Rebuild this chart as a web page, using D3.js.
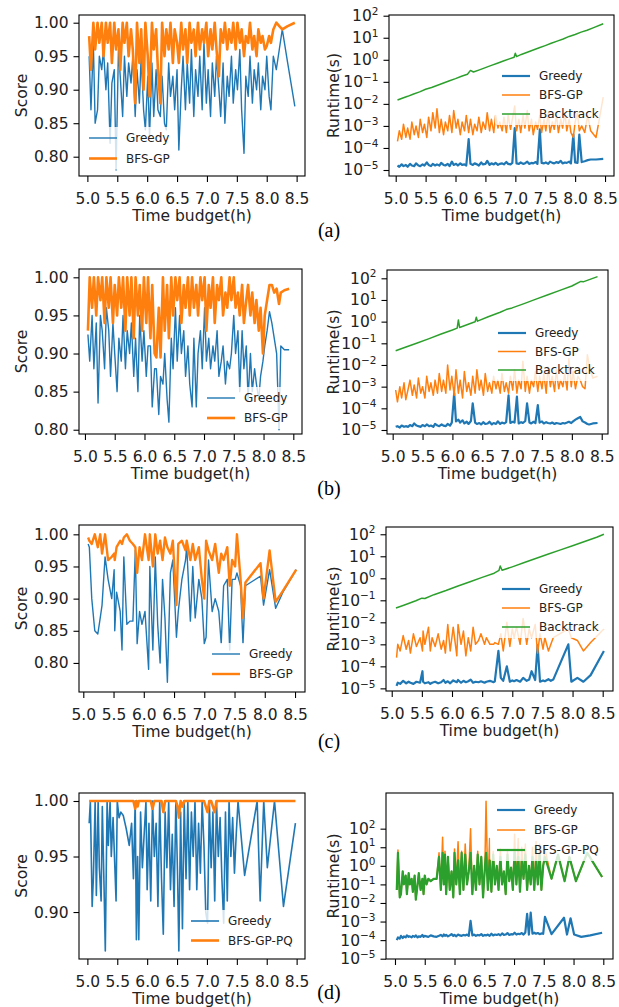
<!DOCTYPE html>
<html><head><meta charset="utf-8">
<script src="https://cdn.jsdelivr.net/npm/d3@7"></script>
<style>body{margin:0;background:#fff}svg{display:block}</style>
</head><body><svg id="c" width="619" height="1007"></svg>
<script>
// ---------------- DATA ----------------
const xTicks=[5.0,5.5,6.0,6.5,7.0,7.5,8.0,8.5];
const scoreTicks=[0.80,0.85,0.90,0.95,1.00];
const scoreTicksD=[0.90,0.95,1.00];
const logTicks=[1e-5,1e-4,1e-3,1e-2,1e-1,1e0,1e1,1e2];
const subLabels=['(a)','(b)','(c)','(d)'];

// (a)
const xA=[5.03,5.06,5.10,5.13,5.17,5.20,5.24,5.27,5.31,5.34,
5.38,5.41,5.45,5.48,5.52,5.55,5.59,5.62,5.66,5.69,
5.73,5.76,5.80,5.83,5.87,5.90,5.94,5.97,6.01,6.04,
6.08,6.11,6.15,6.18,6.22,6.25,6.29,6.32,6.36,6.39,
6.43,6.46,6.50,6.53,6.57,6.60,6.64,6.67,6.71,6.74,
6.78,6.81,6.85,6.88,6.92,6.95,6.99,7.02,7.06,7.09,
7.13,7.16,7.20,7.23,7.27,7.30,7.34,7.37,7.41,7.44,
7.48,7.51,7.55,7.58,7.62,7.65,7.69,7.72,7.76,7.79,
7.83,7.86,7.90,7.93,7.97,8.00,8.04,8.07,8.11,
8.16,8.21,8.26,8.35,8.47];
const scoreGreedyA=[0.95,0.87,0.97,0.85,0.87,0.95,0.93,0.96,0.90,0.94,
0.82,0.91,0.93,0.78,0.96,0.92,0.86,0.95,0.89,0.94,
0.91,0.95,0.86,0.93,0.88,0.95,0.87,0.84,0.92,0.83,
0.94,0.86,0.93,0.87,0.86,0.92,0.85,0.84,0.94,0.89,
0.92,0.87,0.93,0.81,0.90,0.95,0.87,0.94,0.88,0.96,
0.86,0.93,0.89,0.95,0.87,0.97,0.88,0.93,0.86,0.94,
0.89,0.95,0.90,0.86,0.94,0.85,0.92,0.89,0.95,0.88,
0.93,0.90,0.96,0.87,0.805,0.92,0.89,0.95,0.88,0.93,
0.90,0.94,0.87,0.92,0.90,0.95,0.89,0.87,0.95,
0.93,0.96,0.99,0.94,0.875];
const scoreBfsA=[0.98,0.93,1.00,0.96,1.00,0.97,1.00,0.95,1.00,0.97,
1.00,0.94,1.00,0.96,0.99,0.93,1.00,0.97,1.00,0.95,
0.99,0.96,0.88,1.00,0.94,0.99,0.90,1.00,0.95,0.89,
1.00,0.96,0.99,0.93,0.88,1.00,0.95,0.99,0.96,1.00,
0.94,0.99,0.97,0.94,1.00,0.96,0.99,0.94,1.00,0.97,
0.99,0.95,1.00,0.96,0.99,0.97,1.00,0.95,0.99,0.96,
1.00,0.96,0.92,0.99,0.97,1.00,0.96,0.99,0.97,1.00,
0.96,1.00,0.97,0.99,0.95,0.98,0.97,1.00,0.96,0.98,
0.95,0.99,0.97,0.98,0.96,0.965,0.98,0.97,0.99,
1.00,0.995,0.99,0.995,1.00];
const rtGreedyA=[1.6e-5,1.4e-5,1.8e-5,1.5e-5,1.7e-5,1.4e-5,1.9e-5,1.6e-5,1.5e-5,2.0e-5,
1.6e-5,1.5e-5,1.8e-5,1.6e-5,2.2e-5,1.7e-5,1.5e-5,1.9e-5,1.6e-5,1.8e-5,
1.6e-5,2.1e-5,1.7e-5,1.6e-5,1.9e-5,1.5e-5,2.4e-5,1.7e-5,1.9e-5,1.6e-5,
2.0e-5,1.7e-5,1.8e-5,1.6e-5,2.5e-4,1.9e-5,1.7e-5,2.0e-5,1.8e-5,1.6e-5,
2.2e-5,1.8e-5,1.9e-5,2.6e-5,1.7e-5,2.0e-5,1.8e-5,2.1e-5,1.7e-5,1.9e-5,
2.0e-5,1.8e-5,2.3e-5,1.9e-5,1.8e-5,2.1e-5,8e-4,2.0e-5,1.9e-5,2.2e-5,
1.9e-5,2.0e-5,2.4e-5,1.9e-5,2.1e-5,2.0e-5,2.3e-5,1.9e-5,7e-4,2.1e-5,
2.0e-5,2.2e-5,1.9e-5,2.4e-5,2.1e-5,2.0e-5,2.3e-5,2.1e-5,2.6e-5,2.0e-5,
2.2e-5,2.1e-5,2.4e-5,2.0e-5,4e-4,2.2e-5,2.1e-5,4e-4,2.3e-5,
2.5e-5,2.8e-5,3.0e-5,3.0e-5,3.2e-5];
const rtBfsA=[2e-4,6e-4,2.5e-4,1.2e-3,3e-4,8e-4,2.5e-4,1.5e-3,4e-4,1e-3,
3e-4,2e-3,5e-4,1.2e-3,3e-4,2.5e-3,6e-4,4e-3,8e-4,6e-3,
5e-4,2e-3,4e-4,1.5e-3,6e-4,3e-3,5e-4,5e-3,8e-4,2e-3,
4e-4,1.5e-3,6e-4,3e-3,5e-4,2e-3,4e-4,1.2e-3,6e-4,2.5e-3,
5e-4,1.5e-3,7e-4,4e-3,6e-4,2e-3,5e-4,3e-3,8e-4,1.5e-3,
6e-4,2.5e-3,5e-4,3e-3,7e-4,2e-3,8e-3,6e-4,2e-3,5e-4,
3e-3,8e-4,5e-3,6e-4,2e-3,4e-4,1.5e-3,7e-4,3e-3,5e-4,
2e-3,6e-4,4e-3,5e-4,1.5e-3,7e-4,3e-3,5e-4,2e-3,8e-4,
4e-3,6e-4,2e-3,5e-4,3e-4,1.5e-3,4e-3,6e-4,1e-3,
5e-4,3e-3,6e-4,3e-4,2e-2];
const xBackA=[5.03,5.12,5.2,5.3,5.4,5.5,5.6,5.7,5.8,5.9,6.0,6.1,6.2,6.25,6.3,6.4,6.5,6.6,6.7,6.8,6.9,6.98,7.0,7.02,7.1,7.2,7.3,7.4,7.5,7.6,7.7,7.8,7.9,8.0,8.1,8.2,8.3,8.47];
const rtBackA=[0.015,0.0185,0.022,0.028,0.035,0.046,0.055,0.070,0.088,0.112,0.14,0.18,0.22,0.33,0.28,0.35,0.44,0.56,0.70,0.88,1.1,1.3,2.0,1.4,1.75,2.2,2.8,3.5,4.4,5.6,7.0,8.8,11.5,14,18,22,28,43];

// (b)
const xB=[5.05,5.08,5.12,5.15,5.19,5.22,5.26,5.29,5.33,5.36,
5.40,5.43,5.47,5.50,5.54,5.57,5.61,5.64,5.68,5.71,
5.75,5.78,5.82,5.85,5.89,5.92,5.96,5.99,6.03,6.06,
6.10,6.13,6.17,6.20,6.24,6.27,6.31,6.34,6.38,6.41,
6.45,6.48,6.52,6.55,6.59,6.62,6.66,6.69,6.73,6.76,
6.80,6.83,6.87,6.90,6.94,6.97,7.01,7.04,7.08,7.11,
7.15,7.18,7.22,7.25,7.29,7.32,7.36,7.39,7.43,7.46,
7.50,7.53,7.57,7.60,7.64,7.67,7.71,7.74,7.78,7.81,
7.85,7.88,7.92,7.95,7.99,8.02,8.06,8.10,8.14,8.18,
8.22,8.26,8.29,8.35,8.43];
const scoreGreedyB=[0.925,0.89,0.95,0.88,0.94,0.835,0.95,0.93,0.88,0.96,
0.93,0.87,0.94,0.90,0.85,0.92,0.89,0.95,0.88,0.93,
0.90,0.94,0.87,0.92,0.85,0.95,0.89,0.93,0.87,0.91,
0.91,0.83,0.88,0.88,0.82,0.87,0.86,0.90,0.84,0.81,
0.92,0.88,0.96,0.89,0.95,0.90,0.93,0.87,0.91,0.86,
0.83,0.92,0.83,0.90,0.93,0.88,0.96,0.89,0.92,0.88,
0.91,0.89,0.93,0.87,0.89,0.91,0.86,0.89,0.88,0.90,
0.95,0.90,0.93,0.85,0.93,0.88,0.91,0.84,0.90,0.85,
0.88,0.86,0.84,0.87,0.89,0.91,0.93,0.955,0.94,0.92,
0.90,0.80,0.91,0.905,0.905];
const scoreBfsB=[0.93,1.00,0.96,1.00,0.95,1.00,0.97,1.00,0.94,1.00,
0.96,1.00,0.94,0.99,0.95,1.00,0.96,1.00,0.93,1.00,
0.95,1.00,0.92,1.00,0.95,0.99,0.93,1.00,0.94,1.00,
0.92,0.99,0.90,0.895,0.96,0.895,1.00,0.93,0.99,0.92,
1.00,0.95,1.00,0.97,1.00,0.94,0.99,0.96,1.00,0.95,
1.00,0.96,0.99,0.95,1.00,0.97,1.00,0.93,0.99,0.96,
1.00,0.94,0.99,0.97,1.00,0.95,0.98,0.96,1.00,0.97,
1.00,0.96,0.98,0.95,0.99,0.94,0.97,0.99,0.95,0.98,
0.94,0.97,0.93,0.96,0.90,0.95,0.97,0.99,0.99,0.98,
0.985,0.965,0.98,0.983,0.985];
const rtGreedyB=[1.4e-5,1.5e-5,1.3e-5,1.6e-5,1.4e-5,1.5e-5,1.4e-5,1.7e-5,1.5e-5,2.0e-5,
1.6e-5,1.5e-5,1.4e-5,1.7e-5,1.5e-5,1.8e-5,1.5e-5,1.6e-5,1.4e-5,1.9e-5,
1.6e-5,1.5e-5,1.8e-5,1.6e-5,1.5e-5,1.9e-5,1.6e-5,2.2e-5,5e-4,2.5e-5,
3e-5,2.2e-5,2.8e-5,2.0e-5,2.4e-5,1.9e-5,2.6e-5,1.7e-4,2.2e-5,1.9e-5,
2.1e-5,1.8e-5,2.3e-5,1.9e-5,2.0e-5,2.4e-5,1.8e-5,2.1e-5,1.9e-5,2.5e-5,
1.9e-5,2.2e-5,2.0e-5,2.3e-5,4e-4,2.1e-5,2.4e-5,2.2e-5,3.5e-4,2.0e-5,
2.3e-5,2.1e-5,2.6e-5,1.7e-4,2.2e-5,2.0e-5,2.4e-5,2.1e-5,1.4e-4,2.2e-5,
2.5e-5,2.0e-5,2.3e-5,2.1e-5,2.0e-5,2.2e-5,1.9e-5,2.1e-5,2.0e-5,1.9e-5,
2.1e-5,2.0e-5,2.2e-5,2.4e-5,2.1e-5,2.5e-5,3e-5,3.5e-5,4e-5,2.5e-5,
2.2e-5,1.9e-5,1.8e-5,2.0e-5,2.1e-5];
const rtBfsB=[7e-4,2e-4,1e-3,3e-4,1.5e-3,2.5e-4,8e-4,2e-3,4e-4,1.2e-3,
3e-4,2.5e-3,5e-4,1e-3,3e-4,3e-3,6e-4,1.5e-3,4e-4,2e-3,
5e-4,4e-3,6e-4,2e-3,5e-4,1e-2,7e-4,3e-3,4e-4,6e-3,
5e-4,2e-3,3e-4,5e-3,6e-4,1.5e-3,4e-4,3e-3,5e-4,6e-3,
7e-4,2e-3,4e-4,4e-3,6e-4,1.5e-3,5e-4,3e-3,8e-4,2e-3,
5e-4,4e-3,6e-4,1.5e-3,5e-4,3e-3,7e-4,6e-3,5e-4,2e-3,
8e-4,1.5e-2,6e-4,3e-3,5e-4,2e-3,1e-3,5e-3,6e-4,3e-3,
8e-4,4e-3,5e-4,8e-3,1e-3,3e-3,6e-4,6e-3,8e-4,2e-3,
1e-3,4e-3,7e-4,2e-2,1e-3,5e-3,8e-4,3e-3,2e-3,1e-3,
8e-4,3e-2,1e-2,2.5e-3,3e-3];
const xBackB=[5.05,5.2,5.4,5.6,5.8,6.0,6.08,6.1,6.12,6.3,6.38,6.4,6.42,6.6,6.8,6.9,7.0,7.2,7.4,7.6,7.8,8.0,8.15,8.2,8.43];
const rtBackB=[0.045,0.064,0.10,0.16,0.26,0.41,0.50,1.2,0.54,0.82,0.98,1.6,1.05,1.68,2.7,3.6,4.3,6.8,10.9,17.4,27.7,44,72,70,120];

// (c)
const xC=[5.08,5.10,5.14,5.19,5.24,5.28,5.31,5.36,5.41,5.47,
5.51,5.52,5.55,5.61,5.64,5.67,5.72,5.77,5.82,5.86,
5.89,5.93,5.97,6.02,6.08,6.10,6.15,6.19,6.23,6.27,
6.31,6.35,6.39,6.44,6.48,6.54,6.57,6.63,6.69,6.71,
6.77,6.81,6.85,6.91,6.96,7.00,7.03,7.07,7.13,7.18,
7.24,7.28,7.32,7.38,7.42,7.46,7.51,7.54,7.60,7.64,
7.68,7.93,7.98,8.08,8.18,8.30,8.52];
const scoreGreedyC=[0.985,0.98,0.90,0.85,0.845,0.87,0.89,0.965,0.93,0.90,
0.945,0.85,0.91,0.88,0.82,0.965,0.86,0.865,0.865,0.975,
0.83,0.88,0.86,0.88,0.79,0.95,0.82,0.965,0.86,0.80,
0.93,0.87,0.77,0.94,0.96,0.84,0.88,0.93,0.96,0.98,
0.865,0.95,0.87,0.93,0.90,0.83,0.84,0.96,0.88,0.90,
0.88,0.83,0.92,0.93,0.82,0.93,0.93,0.94,0.92,0.83,
0.92,0.935,0.89,0.945,0.885,0.91,0.945];
const scoreBfsC=[0.995,0.99,0.985,1.00,0.98,1.00,0.97,1.00,0.96,0.965,
0.97,0.96,0.98,0.99,0.985,0.995,1.00,0.99,0.985,0.98,
0.94,0.98,0.96,1.00,0.96,1.00,0.95,1.00,0.97,0.99,
0.96,0.995,0.98,0.97,0.99,0.89,0.985,0.99,0.975,0.99,
0.96,0.985,0.96,0.98,0.93,0.90,0.99,0.975,0.96,0.985,
0.94,0.97,0.96,0.98,0.92,0.96,0.95,1.00,0.93,0.87,
0.925,0.955,0.90,0.975,0.895,0.912,0.945];
const rtGreedyC=[1.3e-5,1.8e-5,1.6e-5,2.2e-5,1.7e-5,2.0e-5,1.8e-5,1.6e-5,2.0e-5,1.8e-5,
6e-5,2.0e-5,1.7e-5,1.9e-5,1.6e-5,1.8e-5,2.0e-5,1.7e-5,1.9e-5,2.4e-5,
1.8e-5,2.1e-5,1.7e-5,2.3e-5,1.9e-5,2.4e-5,1.8e-5,2.2e-5,1.9e-5,2.1e-5,
2.5e-5,1.8e-5,2.0e-5,1.9e-5,2.1e-5,1.8e-5,2.0e-5,2.2e-5,1.9e-5,2.1e-5,
5e-4,3e-5,2.2e-5,1e-4,2.0e-5,2.3e-5,2.1e-5,2.4e-5,2.0e-5,3e-5,
2.2e-5,2.5e-5,6e-5,2.4e-5,9e-4,2.0e-5,2.3e-5,2.1e-5,2.6e-5,2.2e-5,
2.5e-5,1e-3,2.0e-5,3e-5,2.0e-5,4e-5,5e-4];
const rtBfsC=[2.5e-4,1e-3,5e-4,2.5e-3,6e-4,1.5e-3,4e-4,3e-3,8e-4,2e-3,
5e-4,4e-3,1e-3,6e-3,5e-4,2e-3,8e-4,3e-3,6e-4,1.5e-3,
4e-4,8e-3,5e-4,6e-3,3e-4,8e-3,1e-3,4e-3,3e-4,2e-3,
5e-4,6e-3,1e-3,1.5e-3,3e-3,1e-3,2e-3,1e-3,1e-3,1.2e-3,
1e-3,3e-3,5e-4,1e-2,8e-4,5e-3,2e-3,6e-3,1e-3,1.5e-2,
1e-3,5e-3,2e-3,8e-3,4e-4,3e-3,6e-4,2e-3,5e-4,1e-3,
2e-3,5e-3,2e-3,1.5e-3,5e-4,1.2e-3,5e-3];
const xBackC=[5.07,5.2,5.4,5.5,5.55,5.7,5.9,6.1,6.3,6.5,6.7,6.78,6.8,6.83,7.0,7.2,7.4,7.6,7.8,8.0,8.2,8.4,8.52];
const rtBackC=[0.045,0.06,0.095,0.125,0.12,0.18,0.28,0.45,0.70,1.1,1.7,2.3,3.6,2.3,3.3,5.2,8.1,12.6,19.6,30,47,73,100];

// (d)
const xD=[5.03,5.05,5.08,5.10,5.13,5.15,5.18,5.20,5.23,5.25,
5.28,5.30,5.33,5.35,5.38,5.40,5.43,5.46,5.48,5.50,
5.53,5.56,5.60,5.65,5.70,5.74,5.77,5.80,5.82,5.84,
5.86,5.89,5.92,5.95,5.98,6.00,6.03,6.06,6.09,6.12,
6.15,6.18,6.21,6.24,6.27,6.30,6.33,6.36,6.39,6.42,
6.45,6.48,6.51,6.53,6.56,6.59,6.62,6.65,6.68,6.71,
6.74,6.77,6.80,6.83,6.86,6.89,6.92,6.95,6.98,7.01,
7.04,7.07,7.10,7.13,7.16,7.19,7.22,7.25,7.28,7.31,
7.34,7.37,7.40,7.43,7.46,7.49,7.52,7.63,7.84,7.89,
7.95,8.01,8.13,8.28,8.48];
const scoreGreedyD=[0.98,1.0,0.905,0.93,1.0,0.915,1.0,0.94,0.91,0.995,
0.92,0.865,1.0,0.96,1.0,0.95,0.985,0.94,0.91,1.0,
0.985,0.99,0.987,0.975,0.96,0.98,0.93,1.0,0.875,0.95,
0.875,0.99,0.94,0.97,1.0,0.92,0.98,0.91,1.0,0.95,
0.98,0.905,1.0,0.93,0.88,0.99,0.94,1.0,0.92,0.97,
0.905,1.0,0.93,0.865,0.99,0.885,1.0,0.93,1.0,0.92,
0.99,0.95,1.0,0.92,0.98,0.935,1.0,0.96,0.90,0.89,
1.0,0.94,0.99,0.91,1.0,0.95,0.985,0.93,0.89,0.99,
0.91,1.0,0.95,0.985,0.935,0.97,1.0,0.933,1.0,0.91,
1.0,0.94,1.0,0.905,0.98];
const scorePqD=[1,1,1,1,1,1,1,1,1,1,
1,1,1,1,1,1,1,1,1,1,
1,1,1,1,1,1,1,0.993,1,0.995,
1,1,1,1,1,1,1,1,0.993,1,
1,1,1,1,0.99,1,1,1,1,1,
1,1,0.995,0.985,1,0.995,1,1,1,1,
1,1,1,1,1,1,1,1,0.995,0.99,
1,1,0.995,0.99,1,1,1,1,1,1,
1,1,1,1,1,1,1,1,1,1,
1,1,1,1,1];
const rtGreedyD=[1e-4,1.4e-4,1.2e-4,1.7e-4,1.3e-4,1.6e-4,1.4e-4,1.8e-4,1.5e-4,1.6e-4,
1.4e-4,1.7e-4,1.5e-4,1.8e-4,1.4e-4,1.6e-4,1.5e-4,1.9e-4,1.5e-4,1.7e-4,
1.6e-4,1.5e-4,1.8e-4,1.6e-4,1.5e-4,1.7e-4,1.9e-4,1.6e-4,2.0e-4,1.7e-4,
1.9e-4,1.6e-4,1.8e-4,2.1e-4,1.7e-4,1.9e-4,1.6e-4,2.0e-4,1.8e-4,1.7e-4,
1.9e-4,1.8e-4,2.0e-4,1.7e-4,1.1e-3,1.8e-4,2.0e-4,1.7e-4,1.9e-4,1.8e-4,
2.1e-4,1.7e-4,1.9e-4,1.8e-4,2.0e-4,1.7e-4,2.2e-4,1.8e-4,2.0e-4,1.9e-4,
2.1e-4,1.8e-4,2.3e-4,1.9e-4,2.0e-4,2.4e-4,1.9e-4,2.1e-4,2.0e-4,2.5e-4,
2.0e-4,2.2e-4,2.1e-4,2.4e-4,2.0e-4,2.6e-4,2.6e-3,2e-4,3e-3,2.2e-4,
2.5e-4,2.2e-4,2.4e-4,2.1e-4,2.3e-4,2.2e-4,1.8e-3,2.1e-4,1.6e-3,2.0e-4,
1.5e-3,2e-4,1.5e-4,1.8e-4,2.5e-4];
const xDTail=[7.63,7.74,7.85,7.93,8.04,8.23,8.48];
const xDR=xD.slice(0,87).concat(xDTail);
const rtBfsD=[0.05,7,0.02,0.03,0.5,0.1,0.3,0.03,0.4,0.1,
0.2,0.04,0.3,0.015,0.1,0.4,0.05,0.2,0.03,0.3,
0.1,0.2,0.15,0.2,0.2,5,0.05,35,0.1,6,
0.03,3,0.05,0.5,0.02,8,0.1,20,0.03,6,
0.05,15,0.1,0.5,100,0.03,1,0.05,6,0.1,
3,0.02,0.8,3000,0.05,30,0.04,6,0.1,1,
0.05,8,0.1,0.5,0.03,6,0.15,0.8,0.05,50,
0.1,30,0.04,10,0.2,15,0.05,1,0.1,10,
0.05,20,0.1,15,0.05,1,8,
0.2,4,0.15,3,0.15,5,0.25];
const rtPqD=[0.05,5,0.02,0.03,0.5,0.1,0.3,0.03,0.4,0.1,
0.2,0.04,0.3,0.015,0.1,0.4,0.05,0.2,0.03,0.3,
0.1,0.2,0.15,0.2,0.2,3,0.05,5,0.1,4,
0.03,3,0.05,0.5,0.02,5,0.1,2,0.03,5,
0.05,4,0.1,0.5,5,0.03,1,0.05,4,0.1,
3,0.02,0.8,5,0.05,2,0.04,4,0.1,1,
0.05,3,0.1,0.5,0.03,4,0.15,0.8,0.05,5,
0.1,3,0.04,2,0.2,4,0.05,1,0.1,3,
0.05,2,0.1,4,0.05,1,3,
0.2,4,0.15,3,0.15,5,0.25];

// ---------------- DRAW ----------------
const BLUE='#1f77b4', ORANGE='#ff7f0e', GREEN='#2ca02c';
const FONT='"DejaVu Sans", sans-serif';
const P=Math.pow;
const panels=[
 {box:[79,15,305,176],xd:[4.86,8.64],yd:[0.7712,1.0115],log:false,yt:scoreTicks,yl:'Score',ylx:26.5,
  s:[{n:'Greedy',x:xA,y:scoreGreedyA,c:BLUE,w:1.4},{n:'BFS-GP',x:xA,y:scoreBfsA,c:ORANGE,w:2.6}],leg:[89,138,20.5]},
 {box:[389,15,614,176],xd:[4.888,8.65],yd:[P(10,-5.272),P(10,2.032)],log:true,yt:logTicks,yl:'Runtime(s)',ylx:338.5,
  s:[{n:'Greedy',x:xA,y:rtGreedyA,c:BLUE,w:2.2},{n:'BFS-GP',x:xA,y:rtBfsA,c:ORANGE,w:1.5},{n:'Backtrack',x:xBackA,y:rtBackA,c:GREEN,w:1.5}],leg:[502,76,19]},
 {box:[79,269,302,434],xd:[4.90,8.646],yd:[0.7944,1.0109],log:false,yt:scoreTicks,yl:'Score',ylx:26.5,
  s:[{n:'Greedy',x:xB,y:scoreGreedyB,c:BLUE,w:1.4},{n:'BFS-GP',x:xB,y:scoreBfsB,c:ORANGE,w:2.6}],leg:[207,398,20]},
 {box:[387,270,608,434],xd:[4.905,8.605],yd:[P(10,-5.185),P(10,2.383)],log:true,yt:logTicks,yl:'Runtime(s)',ylx:338.5,
  s:[{n:'Greedy',x:xB,y:rtGreedyB,c:BLUE,w:2.2},{n:'BFS-GP',x:xB,y:rtBfsB,c:ORANGE,w:1.5},{n:'Backtrack',x:xBackB,y:rtBackB,c:GREEN,w:1.5}],leg:[498,333,18.5]},
 {box:[79,525,305,692],xd:[4.929,8.665],yd:[0.7548,1.0145],log:false,yt:scoreTicks,yl:'Score',ylx:26.5,
  s:[{n:'Greedy',x:xC,y:scoreGreedyC,c:BLUE,w:1.4},{n:'BFS-GP',x:xC,y:scoreBfsC,c:ORANGE,w:2.4}],leg:[212,654,20]},
 {box:[386,527,613,691],xd:[4.905,8.671],yd:[P(10,-5.12),P(10,2.33)],log:true,yt:logTicks,yl:'Runtime(s)',ylx:338.5,
  s:[{n:'Greedy',x:xC,y:rtGreedyC,c:BLUE,w:2.2},{n:'BFS-GP',x:xC,y:rtBfsC,c:ORANGE,w:1.5},{n:'Backtrack',x:xBackC,y:rtBackC,c:GREEN,w:1.5}],leg:[502,589,19]},
 {box:[79,793,305,959],xd:[4.86,8.64],yd:[0.8577,1.0072],log:false,yt:scoreTicksD,yl:'Score',ylx:26.5,
  s:[{n:'Greedy',x:xD,y:scoreGreedyD,c:BLUE,w:1.6},{n:'BFS-GP-PQ',x:xD,y:scorePqD,c:ORANGE,w:2.6}],leg:[191,921,19.5]},
 {box:[386,793,613,959],xd:[4.849,8.663],yd:[P(10,-5.016),P(10,3.92)],log:true,yt:logTicks,yl:'Runtime(s)',ylx:338.5,
  s:[{n:'Greedy',x:xD,y:rtGreedyD,c:BLUE,w:2.2},{n:'BFS-GP',x:xDR,y:rtBfsD,c:ORANGE,w:1.5},{n:'BFS-GP-PQ',x:xDR,y:rtPqD,c:GREEN,w:2.2}],leg:[497,810,20]}
];
const subLabelY=[237,495,748,999];

const svg=d3.select('#c');
const defs=svg.append('defs');
panels.forEach((p,i)=>{
  const [L,T,R,B]=p.box;
  const xs=d3.scaleLinear().domain(p.xd).range([L,R]);
  const ys=(p.log?d3.scaleLog():d3.scaleLinear()).domain(p.yd).range([B,T]);
  const g=svg.append('g');
  const cid='clip'+i;
  defs.append('clipPath').attr('id',cid).append('rect').attr('x',L).attr('y',T).attr('width',R-L).attr('height',B-T);
  const line=d3.line().x(d=>xs(d[0])).y(d=>ys(d[1]));
  p.s.forEach(s=>{
    g.append('path').attr('d',line(d3.zip(s.x,s.y))).attr('fill','none')
     .attr('stroke',s.c).attr('stroke-width',s.w).attr('stroke-linejoin','round')
     .attr('clip-path',`url(#${cid})`);
  });
  // legend
  const [lx,ly,ldy]=p.leg;
  const lg=g.append('g');
  const bg=lg.append('rect');
  let maxW=0;
  p.s.forEach((s,k)=>{
    const y=ly+k*ldy;
    lg.append('line').attr('x1',lx).attr('x2',lx+28).attr('y1',y).attr('y2',y).attr('stroke',s.c).attr('stroke-width',s.w);
    const t=lg.append('text').attr('x',lx+37).attr('y',y).attr('dy','0.36em').attr('font-family',FONT).attr('font-size',12).attr('fill','#222').text(s.n);
    maxW=Math.max(maxW,t.node().getComputedTextLength());
  });
  bg.attr('x',lx-7).attr('y',ly-11).attr('width',37+maxW+13).attr('height',(p.s.length-1)*ldy+22)
    .attr('rx',3).attr('fill','#fff').attr('fill-opacity',0.8);
  // frame
  g.append('rect').attr('x',L).attr('y',T).attr('width',R-L).attr('height',B-T).attr('fill','none').attr('stroke','#000').attr('stroke-width',1.1);
  // x axis
  const gx=g.append('g').attr('transform',`translate(0,${B})`)
    .call(d3.axisBottom(xs).tickValues(xTicks).tickFormat(d3.format('.1f')).tickSize(6).tickPadding(11).tickSizeOuter(0));
  gx.select('.domain').remove();
  gx.attr('font-family',FONT).attr('font-size',15.5);
  gx.selectAll('line').attr('stroke-width',1.1);
  gx.selectAll('text').attr('fill','#222');
  // y axis
  const ya=d3.axisLeft(ys).tickValues(p.yt).tickSize(5.5).tickPadding(5).tickSizeOuter(0);
  if(!p.log) ya.tickFormat(d3.format('.2f'));
  const gy=g.append('g').attr('transform',`translate(${L},0)`).call(ya);
  gy.select('.domain').remove();
  gy.attr('font-family',FONT).attr('font-size',15.5);
  gy.selectAll('line').attr('stroke-width',1.1);
  gy.selectAll('text').attr('fill','#222');
  if(p.log){
    gy.selectAll('.tick text').each(function(d){
      const e=Math.round(Math.log10(d));
      const t=d3.select(this).text('');
      t.append('tspan').text('10');
      t.append('tspan').attr('dy','-0.6em').attr('font-size',10.5).text(e<0?'\u2212'+(-e):String(e));
    });
  }
  // labels
  g.append('text').attr('x',(L+R)/2).attr('y',B+45).attr('text-anchor','middle')
   .attr('font-family',FONT).attr('font-size',15.5).attr('fill','#222').text('Time budget(h)');
  g.append('text').attr('transform',`translate(${p.ylx},${(T+B)/2}) rotate(-90)`).attr('text-anchor','middle')
   .attr('font-family',FONT).attr('font-size',15.5).attr('fill','#222').text(p.yl);
});
subLabels.forEach((s,i)=>{
  svg.append('text').attr('x',329).attr('y',subLabelY[i]).attr('text-anchor','middle')
    .attr('font-family','"Liberation Serif", "Times New Roman", serif').attr('font-size',20).attr('fill','#000').text(s);
});
</script></body></html>
